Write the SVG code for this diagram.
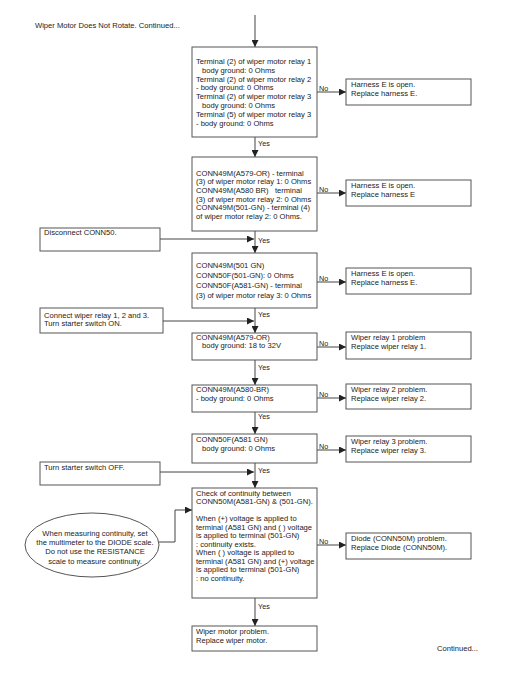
<svg xmlns="http://www.w3.org/2000/svg" width="525" height="675" viewBox="0 0 525 675">
<style>
text{font-family:"Liberation Sans",Arial,sans-serif;font-size:7.6px;fill:#222;white-space:pre}
.box{fill:#fff;stroke:#555;stroke-width:1}
.ln{fill:none;stroke:#444;stroke-width:1}
.lbl{font-size:7.2px}
</style>
<defs>
<marker id="ah" viewBox="0 0 10 10" refX="10" refY="5" markerWidth="7" markerHeight="7" markerUnits="userSpaceOnUse" orient="auto">
<path d="M0,0 L10,5 L0,10 z" fill="#222"/>
</marker>
</defs>
<rect width="525" height="675" fill="#fff"/>
<text x="35" y="27.5">Wiper Motor Does Not Rotate. Continued...</text>

<g id="connectors">
<path class="ln" d="M255 15 V47" marker-end="url(#ah)"/>
<path class="ln" d="M255 137 V157" marker-end="url(#ah)"/>
<path class="ln" d="M255 231 V253" marker-end="url(#ah)"/>
<path class="ln" d="M255 308 V333" marker-end="url(#ah)"/>
<path class="ln" d="M255 360 V385" marker-end="url(#ah)"/>
<path class="ln" d="M255 412 V434" marker-end="url(#ah)"/>
<path class="ln" d="M255 463 V488" marker-end="url(#ah)"/>
<path class="ln" d="M255 598 V626" marker-end="url(#ah)"/>
<path class="ln" d="M317 92 H346" marker-end="url(#ah)"/>
<path class="ln" d="M317 193 H346" marker-end="url(#ah)"/>
<path class="ln" d="M317 282 H346" marker-end="url(#ah)"/>
<path class="ln" d="M317 347 H346" marker-end="url(#ah)"/>
<path class="ln" d="M317 398 H346" marker-end="url(#ah)"/>
<path class="ln" d="M317 450 H346" marker-end="url(#ah)"/>
<path class="ln" d="M317 545 H346" marker-end="url(#ah)"/>
<path class="ln" d="M160 239 H254" marker-end="url(#ah)"/>
<path class="ln" d="M163 321 H254" marker-end="url(#ah)"/>
<path class="ln" d="M160 472 H254" marker-end="url(#ah)"/>
<path class="ln" d="M159 542 H175 V510 H192" marker-end="url(#ah)"/>
<text class="lbl" x="258" y="145.5">Yes</text>
<text class="lbl" x="258" y="242.5">Yes</text>
<text class="lbl" x="258" y="316.5">Yes</text>
<text class="lbl" x="258" y="369.5">Yes</text>
<text class="lbl" x="258" y="418.5">Yes</text>
<text class="lbl" x="258" y="472.5">Yes</text>
<text class="lbl" x="258" y="608.5">Yes</text>
<text class="lbl" x="319" y="90.5">No</text>
<text class="lbl" x="319" y="191.5">No</text>
<text class="lbl" x="319" y="280.5">No</text>
<text class="lbl" x="319" y="345.5">No</text>
<text class="lbl" x="319" y="396.5">No</text>
<text class="lbl" x="319" y="448.5">No</text>
<text class="lbl" x="319" y="543.5">No</text>
</g>

<g id="box1">
<rect class="box" x="192" y="47" width="125" height="90"/>
<text x="196" y="64">Terminal (2) of wiper motor relay 1</text>
<text x="202" y="72.8">body ground: 0 Ohms</text>
<text x="196" y="81.6">Terminal (2) of wiper motor relay 2</text>
<text x="196" y="90.4">- body ground: 0 Ohms</text>
<text x="196" y="99.2">Terminal (2) of wiper motor relay 3</text>
<text x="202" y="108">body ground: 0 Ohms</text>
<text x="196" y="116.8">Terminal (5) of wiper motor relay 3</text>
<text x="196" y="125.6">- body ground: 0 Ohms</text>
</g>

<g id="box2">
<rect class="box" x="192" y="157" width="125" height="74"/>
<text x="196" y="175.5">CONN49M(A579-OR) - terminal</text>
<text x="196" y="184.2">(3) of wiper motor relay 1: 0 Ohms</text>
<text x="196" y="192.9">CONN49M(A580 BR)   terminal</text>
<text x="196" y="201.6">(3) of wiper motor relay 2: 0 Ohms</text>
<text x="196" y="210.3">CONN49M(501-GN) - terminal (4)</text>
<text x="196" y="219">of wiper motor relay 2: 0 Ohms.</text>
</g>

<g id="box3">
<rect class="box" x="192" y="253" width="125" height="55"/>
<text x="196" y="267.5">CONN49M(501 GN)</text>
<text x="196" y="277.5">CONN50F(501-GN): 0 Ohms</text>
<text x="196" y="287.5">CONN50F(A581-GN) - terminal</text>
<text x="196" y="297.5">(3) of wiper motor relay 3: 0 Ohms</text>
</g>

<g id="box4">
<rect class="box" x="192" y="333" width="125" height="27"/>
<text x="196" y="339.5">CONN49M(A579-OR)</text>
<text x="202" y="348">body ground: 18 to 32V</text>
</g>

<g id="box5">
<rect class="box" x="192" y="385" width="125" height="27"/>
<text x="196" y="391.5">CONN49M(A580-BR)</text>
<text x="196" y="401">- body ground: 0 Ohms</text>
</g>

<g id="box6">
<rect class="box" x="192" y="434" width="125" height="29"/>
<text x="196" y="441.5">CONN50F(A581 GN)</text>
<text x="202" y="451">body ground: 0 Ohms</text>
</g>

<g id="box7">
<rect class="box" x="192" y="488" width="125" height="110"/>
<text x="196" y="495.5">Check of continuity between</text>
<text x="196" y="504">CONN50M(A581-GN) &amp; (501-GN).</text>
<text x="196" y="521">When (+) voltage is applied to</text>
<text x="196" y="529.5">terminal (A581 GN) and ( ) voltage</text>
<text x="196" y="538">is applied to terminal (501-GN)</text>
<text x="196" y="546.5">: continuity exists.</text>
<text x="196" y="555">When ( ) voltage is applied to</text>
<text x="196" y="563.5">terminal (A581 GN) and (+) voltage</text>
<text x="196" y="572">is applied to terminal (501-GN)</text>
<text x="196" y="580.5">: no continuity.</text>
</g>

<g id="box8">
<rect class="box" x="192" y="626" width="125" height="25"/>
<text x="196" y="633.5">Wiper motor problem.</text>
<text x="196" y="642.5">Replace wiper motor.</text>
</g>

<g id="r1">
<rect class="box" x="346" y="79" width="125" height="26"/>
<text x="351" y="87">Harness E is open.</text>
<text x="351" y="96">Replace harness E.</text>
</g>
<g id="r2">
<rect class="box" x="346" y="180" width="125" height="26"/>
<text x="351" y="188">Harness E is open.</text>
<text x="351" y="197">Replace harness E</text>
</g>
<g id="r3">
<rect class="box" x="346" y="268" width="125" height="26"/>
<text x="351" y="276">Harness E is open.</text>
<text x="351" y="285">Replace harness E.</text>
</g>
<g id="r4">
<rect class="box" x="346" y="332" width="125" height="27"/>
<text x="351" y="339.5">Wiper relay 1 problem</text>
<text x="351" y="349">Replace wiper relay 1.</text>
</g>
<g id="r5">
<rect class="box" x="346" y="384" width="125" height="25"/>
<text x="351" y="391.5">Wiper relay 2 problem.</text>
<text x="351" y="400.5">Replace wiper relay 2.</text>
</g>
<g id="r6">
<rect class="box" x="346" y="436" width="125" height="26"/>
<text x="351" y="443.5">Wiper relay 3 problem.</text>
<text x="351" y="452.5">Replace wiper relay 3.</text>
</g>
<g id="r7">
<rect class="box" x="346" y="533" width="125" height="26"/>
<text x="351" y="540.5">Diode (CONN50M) problem.</text>
<text x="351" y="549.5">Replace Diode (CONN50M).</text>
</g>

<g id="l1">
<rect class="box" x="40" y="228" width="120" height="23"/>
<text x="44" y="234.5">Disconnect CONN50.</text>
</g>
<g id="l2">
<rect class="box" x="40" y="308" width="123" height="25"/>
<text x="44" y="317.5">Connect wiper relay 1, 2 and 3.</text>
<text x="44" y="326">Turn starter switch ON.</text>
</g>
<g id="l3">
<rect class="box" x="40" y="462" width="120" height="23"/>
<text x="44" y="469.5">Turn starter switch OFF.</text>
</g>

<g id="note">
<ellipse class="box" cx="92" cy="545" rx="67" ry="32"/>
<text x="95" y="535.5" text-anchor="middle">When measuring continuity, set</text>
<text x="95" y="544.5" text-anchor="middle">the multimeter to the DIODE scale.</text>
<text x="95" y="554" text-anchor="middle">Do not use the RESISTANCE</text>
<text x="95" y="563.5" text-anchor="middle">scale to measure continuity.</text>
</g>

<text x="437" y="650.5">Continued...</text>
</svg>
